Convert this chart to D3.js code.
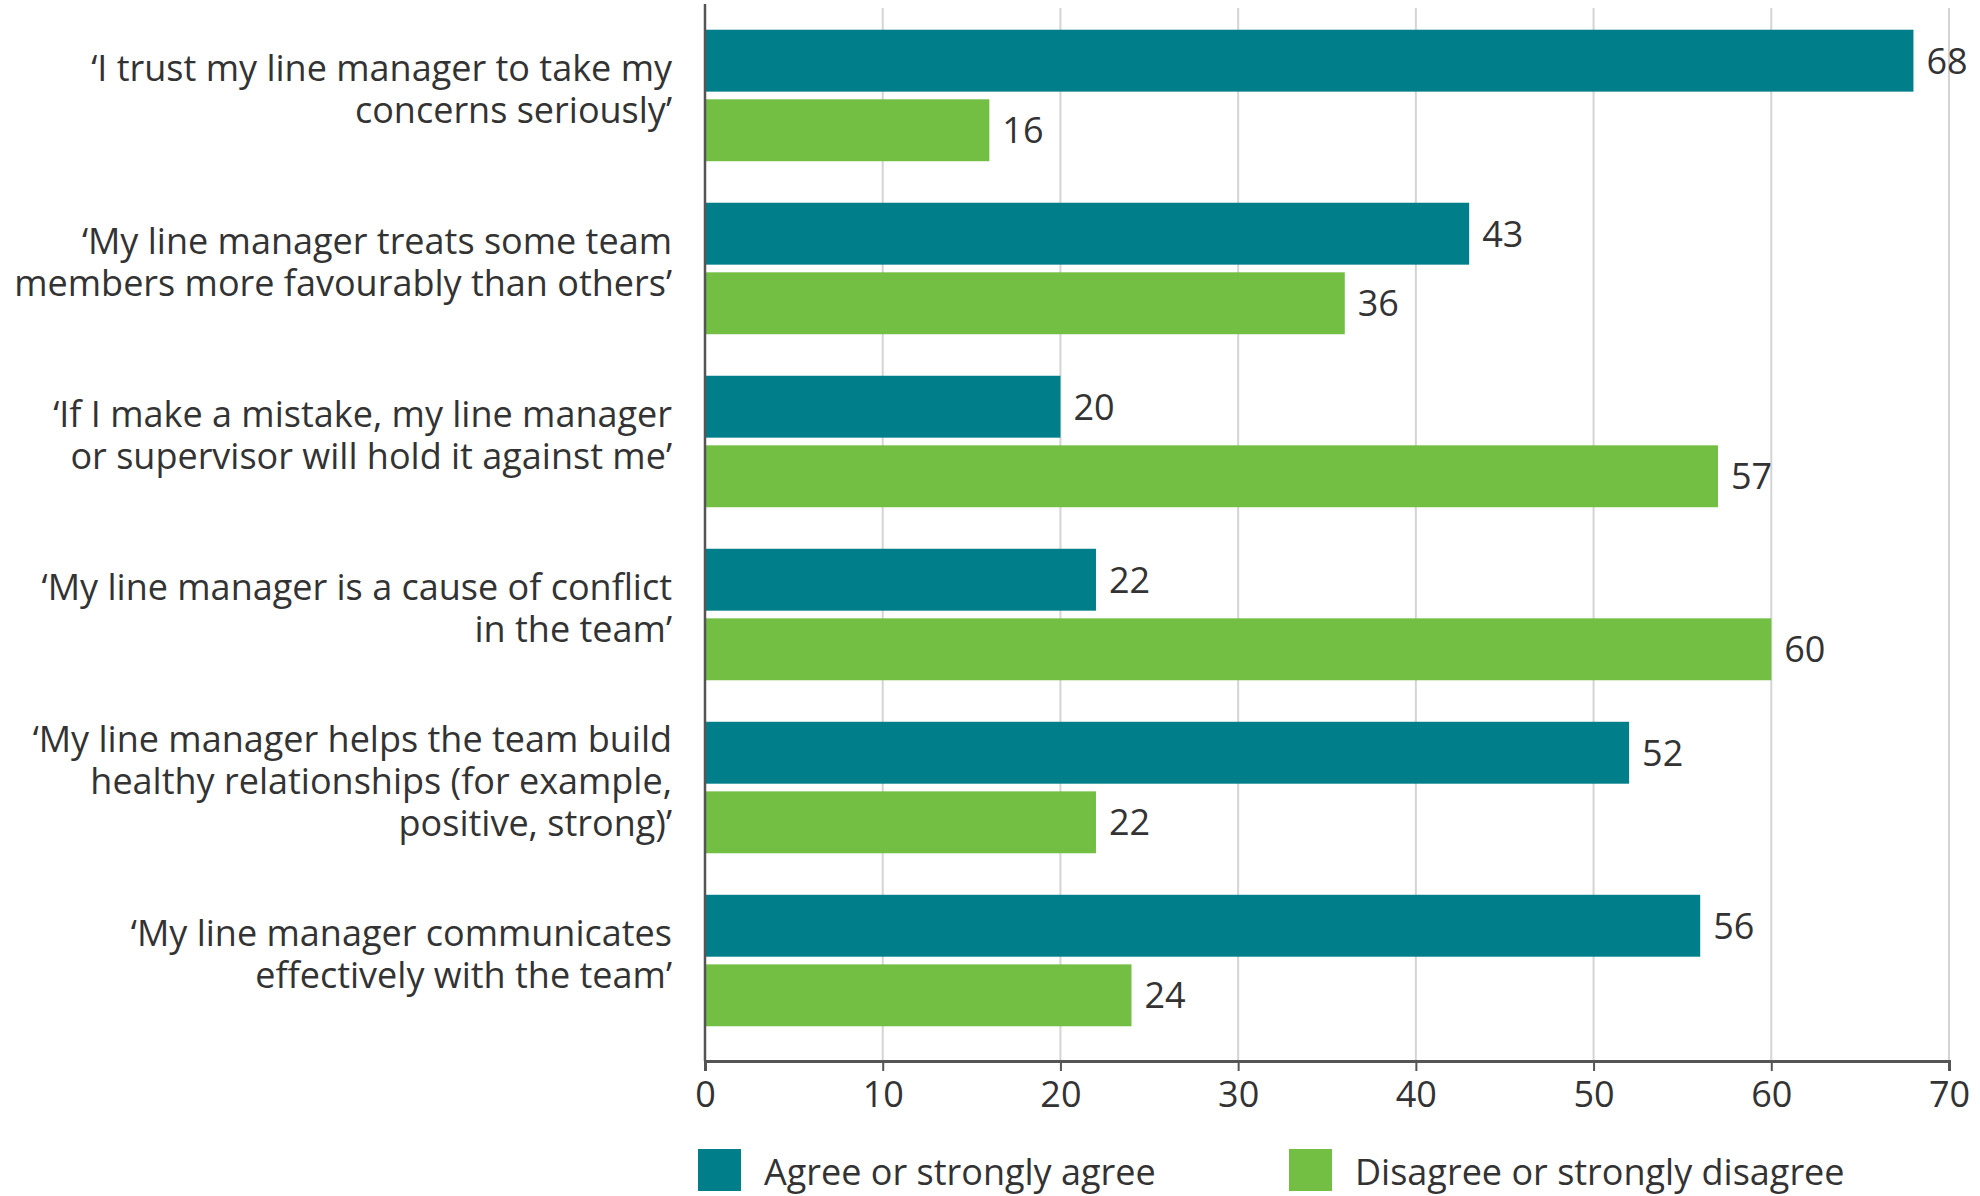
<!DOCTYPE html>
<html>
<head>
<meta charset="utf-8">
<script src="https://cdn.jsdelivr.net/npm/d3@7"></script>
<style>
  body { margin: 0; background: #fff; }
  text { font-family: "Open Sans", Lato, sans-serif; fill: #333; }
</style>
</head>
<body>
<svg id="chart" width="1980" height="1196"></svg>
<script>
const statements = [
  ["‘I trust my line manager to take my", "concerns seriously’"],
  ["‘My line manager treats some team", "members more favourably than others’"],
  ["‘If I make a mistake, my line manager", "or supervisor will hold it against me’"],
  ["‘My line manager is a cause of conflict", "in the team’"],
  ["‘My line manager helps the team build", "healthy relationships (for example,", "positive, strong)’"],
  ["‘My line manager communicates", "effectively with the team’"]
];
const agree = [68, 43, 20, 22, 52, 56];
const disagree = [16, 36, 57, 60, 22, 24];
const seriesNames = ["Agree or strongly agree", "Disagree or strongly disagree"];
const xTicks = [0, 10, 20, 30, 40, 50, 60, 70];

const COLORS = ["#007f8a", "#72bf44"];
const MARGIN = { LEFT: 705, RIGHT: 31, TOP: 10, BOTTOM: 1046 };
const AXIS_Y = 1061;
const FS = 36;

const svg = d3.select("#chart");

const xScale = d3.scaleLinear()
    .domain([0, 70])
    .range([MARGIN.LEFT, 1980 - MARGIN.RIGHT]);

const yScale = d3.scaleBand()
    .domain(d3.range(statements.length))
    .range([MARGIN.TOP, MARGIN.BOTTOM])
    .paddingInner(0.24)
    .paddingOuter(0.114);

const inner = d3.scaleBand()
    .domain([0, 1])
    .range([0, yScale.bandwidth()])
    .paddingInner(0.11);

// gridlines
svg.append("g")
    .selectAll("line")
    .data(xTicks.slice(1))
    .join("line")
    .attr("x1", d => xScale(d))
    .attr("x2", d => xScale(d))
    .attr("y1", 8)
    .attr("y2", AXIS_Y)
    .attr("stroke", "#d4d4d4")
    .attr("stroke-width", 2);

// bars
const rows = statements.map((s, i) => ({ i, values: [agree[i], disagree[i]] }));
const groups = svg.append("g")
    .selectAll("g")
    .data(rows)
    .join("g")
    .attr("transform", d => `translate(0,${yScale(d.i)})`);

groups.selectAll("rect")
    .data(d => d.values.map((v, k) => ({ v, k })))
    .join("rect")
    .attr("x", xScale(0))
    .attr("y", d => inner(d.k))
    .attr("width", d => xScale(d.v) - xScale(0))
    .attr("height", inner.bandwidth())
    .attr("fill", d => COLORS[d.k]);

groups.selectAll("text.val")
    .data(d => d.values.map((v, k) => ({ v, k })))
    .join("text")
    .attr("class", "val")
    .attr("x", d => xScale(d.v) + 13)
    .attr("y", d => inner(d.k) + inner.bandwidth() / 2)
    .attr("dy", "0.36em")
    .attr("font-size", FS + "px")
    .text(d => d.v);

// category labels, one text per line
const LINE_H = 42;
const labelLines = rows.flatMap(d => statements[d.i].map((l, j, arr) => ({
    text: l,
    y: yScale(d.i) + yScale.bandwidth() / 2 - 6 + (j - (arr.length - 1) / 2) * LINE_H
})));
svg.append("g")
    .selectAll("text")
    .data(labelLines)
    .join("text")
    .attr("text-anchor", "end")
    .attr("font-size", FS + "px")
    .attr("x", 672)
    .attr("y", d => d.y)
    .attr("dy", "0.36em")
    .text(d => d.text);

// x axis
const xAxis = svg.append("g")
    .attr("transform", `translate(0,${AXIS_Y})`)
    .call(d3.axisBottom(xScale).tickValues(xTicks).tickSize(10).tickPadding(10));
xAxis.select(".domain").attr("stroke", "#555").attr("stroke-width", 3);
xAxis.selectAll(".tick line").attr("stroke", "#555").attr("stroke-width", 2);
xAxis.selectAll(".tick text").attr("font-size", FS + "px").attr("font-family", "'Open Sans', sans-serif").attr("fill", "#333");

// y axis line
svg.append("line")
    .attr("x1", xScale(0)).attr("x2", xScale(0))
    .attr("y1", 4).attr("y2", AXIS_Y)
    .attr("stroke", "#555")
    .attr("stroke-width", 2.5);

// legend
const legendX = [698, 1289];
const legend = svg.append("g")
    .selectAll("g")
    .data(seriesNames)
    .join("g")
    .attr("transform", (d, i) => `translate(${legendX[i]},1149)`);
legend.append("rect")
    .attr("width", 43).attr("height", 42)
    .attr("fill", (d, i) => COLORS[i]);
legend.append("text")
    .attr("x", 66).attr("y", 23).attr("dy", "0.36em")
    .attr("font-size", FS + "px")
    .text(d => d);
</script>
</body>
</html>
